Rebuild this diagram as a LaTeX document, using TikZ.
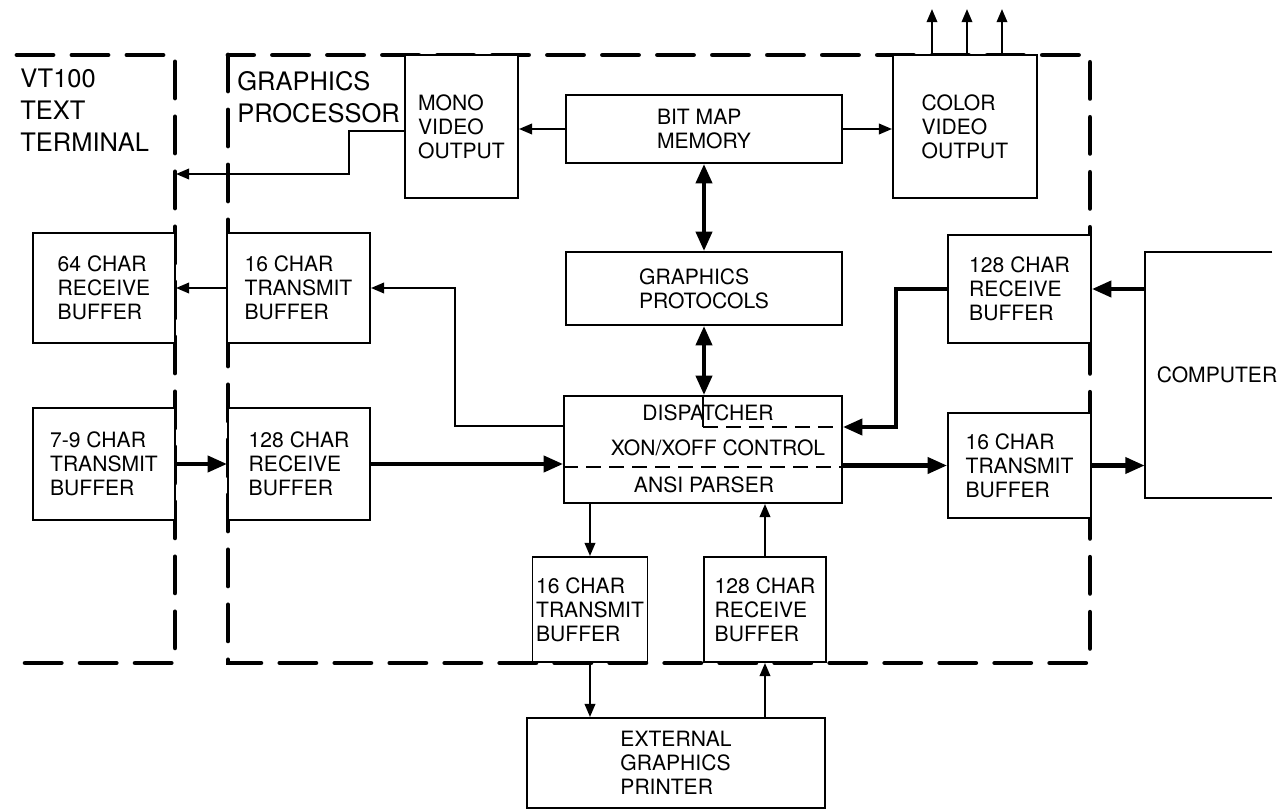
\documentclass[tikz,border=0pt]{standalone}
\usepackage{fontspec}
\setmainfont{TeX Gyre Heros}
\usetikzlibrary{arrows.meta}

\begin{document}
\begin{tikzpicture}[x=0.02cm,y=-0.02cm,
    blk/.style={draw,line width=1.1pt,fill=white,align=left,inner sep=0pt,
        font=\fontsize{12}{13.7}\selectfont},
    lbl/.style={inner sep=0pt,font=\fontsize{12}{13.7}\selectfont},
    title/.style={anchor=north west,inner sep=0pt,align=left,
        font=\fontsize{14.5}{18.2}\selectfont},
    frame/.style={line width=2.8pt,line cap=round,dash pattern=on 0.72cm off 0.38cm},
    thinarr/.style={line width=1.2pt,-{Triangle[length=7.5pt,width=6pt]}},
    thickarr/.style={line width=2.4pt,-{Triangle[length=11pt,width=9pt]}},
    dblarr/.style={line width=2.4pt,{Triangle[length=11pt,width=9pt]}-{Triangle[length=11pt,width=9pt]}},
    divider/.style={line width=1.1pt,dash pattern=on 0.3cm off 0.16cm}]
    \useasboundingbox (0,0) rectangle (1285,811);

    % dashed frames
    \draw[frame] (17,55) -- (175,55) -- (175,663) -- (8,663);
    \draw[frame] (228,55) rectangle (1090,663);
    \node[title] (vt) at (20,69) {VT100\\TEXT\\TERMINAL};
    \node[title] (gp) at (237,71) {GRAPHICS\\PROCESSOR};
    \coordinate (vtin) at (176,174);

    % top row
    \node[blk,minimum width=2.26cm,minimum height=2.86cm] (mono) at (461.5,126.5) {MONO\\VIDEO\\OUTPUT};
    \node[blk,minimum width=5.52cm,minimum height=1.36cm] (bitmap) at (704,129) {BIT MAP\\MEMORY};
    \node[blk,minimum width=2.88cm,minimum height=2.86cm] (color) at (965,126.5) {COLOR\\VIDEO\\OUTPUT};
    \node[blk,minimum width=5.52cm,minimum height=1.46cm] (protocols) at (704,288.5) {GRAPHICS\\PROTOCOLS};

    % buffers
    \node[blk,minimum width=2.84cm,minimum height=2.2cm] (rxa) at (104,288) {64 CHAR\\RECEIVE\\BUFFER};
    \node[blk,minimum width=2.86cm,minimum height=2.2cm] (txa) at (298.5,288) {16 CHAR\\TRANSMIT\\BUFFER};
    \node[blk,minimum width=2.84cm,minimum height=2.24cm] (txb) at (104,464) {7-9 CHAR\\TRANSMIT\\BUFFER};
    \node[blk,minimum width=2.84cm,minimum height=2.24cm] (rxb) at (299,464) {128 CHAR\\RECEIVE\\BUFFER};
    \node[blk,minimum width=2.86cm,minimum height=2.16cm] (rxc) at (1019.5,289) {128 CHAR\\RECEIVE\\BUFFER};
    \node[blk,minimum width=2.86cm,minimum height=2.1cm] (txc) at (1019.5,465.5) {16 CHAR\\TRANSMIT\\BUFFER};
    \node[blk,minimum width=2.3cm,minimum height=2.1cm] (txd) at (590,609.5) {16 CHAR\\TRANSMIT\\BUFFER};
    \node[blk,minimum width=2.44cm,minimum height=2.1cm] (rxd) at (765,609.5) {128 CHAR\\RECEIVE\\BUFFER};
    \node[blk,minimum width=5.96cm,minimum height=1.8cm] (printer) at (676,763) {EXTERNAL\\GRAPHICS\\PRINTER};

    % dispatcher block
    \node[blk,minimum width=5.56cm,minimum height=2.14cm] (dispatch) at (703,449.5) {};
    \node[lbl] (disp) at (708,413) {DISPATCHER};
    \node[lbl] (xon) at (718,448) {XON/XOFF CONTROL};
    \node[lbl] (ansi) at (704,485) {ANSI PARSER};
    \draw[line width=1.1pt] (dispatch.north) -- ++(0,32) coordinate (dsp);
    \draw[divider] (dsp) -- (dsp -| dispatch.east);
    \draw[divider] ([yshift=-0.35cm]dispatch.west) -- ([yshift=-0.35cm]dispatch.east);

    % computer
    \node[inner sep=0pt,minimum width=2.54cm,minimum height=4.92cm] (computer) at (1208.5,375) {};
    \node[lbl] (comp) at (1217,375) {COMPUTER};
    \draw[line width=1.1pt] (computer.north east) -- (computer.north west)
        -- (computer.south west) -- (computer.south east);

    % connections
    \draw[thinarr] (bitmap.west) -- (bitmap.west -| mono.east);
    \draw[thinarr] (bitmap.east) -- (bitmap.east -| color.west);
    \foreach \dx in {-33,2,37}
        \draw[thinarr] ([xshift=\dx*0.02cm]color.north) -- ++(0,-45);
    \draw[thinarr] ([yshift=-0.09cm]mono.west) -- ++(-55,0) |- (vtin);
    \draw[dblarr] (bitmap.south) -- (protocols.north);
    \draw[dblarr] (protocols.south) -- (protocols.south |- dispatch.north);
    \draw[thinarr] (txa.west) -- (txa.west -| rxa.east);
    \draw[thinarr] ([yshift=0.47cm]dispatch.west) -- ++(-108,0) |- (txa.east);
    \draw[thickarr] (txb.east) -- (txb.east -| rxb.west);
    \draw[thickarr] (rxb.east) -- (rxb.east -| dispatch.west);
    \draw[thickarr] (rxc.west) -- ++(-51,0) |- ([yshift=0.45cm]dispatch.east);
    \draw[thickarr] (rxc.east -| computer.west) -- (rxc.east);
    \draw[thickarr] (txc.west -| dispatch.east) -- (txc.west);
    \draw[thickarr] (txc.east) -- (txc.east -| computer.west);
    \draw[thinarr] (txd.north |- dispatch.south) -- (txd.north);
    \draw[thinarr] (txd.south) -- (txd.south |- printer.north);
    \draw[thinarr] (rxd.south |- printer.north) -- (rxd.south);
    \draw[thinarr] (rxd.north) -- (rxd.north |- dispatch.south);
\end{tikzpicture}
\end{document}
